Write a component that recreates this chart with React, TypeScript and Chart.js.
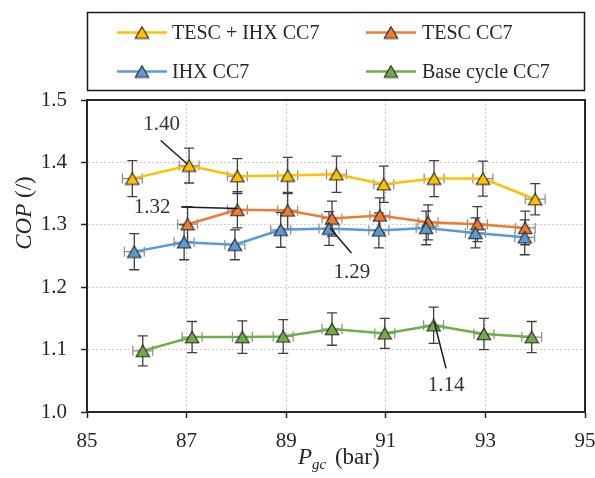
import React, { useEffect, useRef } from 'react';
import { Chart, registerables } from 'chart.js';
Chart.register(...registerables);

// ---- data ----
const seriesNames = ['TESC + IHX CC7', 'TESC CC7', 'IHX CC7', 'Base cycle CC7'];
const seriesColors = ['#FFC000', '#ED7D31', '#5B9BD5', '#70AD47'];

const tescIhxX = [85.91, 87.05, 88.02, 89.03, 90.01, 90.96, 91.97, 92.95, 94.0];
const tescIhxY = [1.374, 1.395, 1.378, 1.379, 1.381, 1.365, 1.374, 1.374, 1.341];
const tescIhxErr = [0.029, 0.028, 0.028, 0.029, 0.029, 0.029, 0.029, 0.028, 0.025];

const tescX = [87.02, 88.02, 89.03, 89.92, 90.88, 91.85, 92.84, 93.8];
const tescY = [1.301, 1.324, 1.323, 1.31, 1.315, 1.304, 1.301, 1.295];
const tescErr = [0.028, 0.029, 0.029, 0.028, 0.028, 0.028, 0.028, 0.027];

const ihxX = [85.95, 86.95, 87.97, 88.89, 89.86, 90.86, 91.81, 92.8, 93.79];
const ihxY = [1.257, 1.272, 1.268, 1.292, 1.294, 1.291, 1.295, 1.287, 1.28];
const ihxErr = [0.029, 0.028, 0.024, 0.028, 0.027, 0.028, 0.027, 0.024, 0.028];

const baseX = [86.12, 87.11, 88.12, 88.94, 89.92, 90.98, 91.96, 92.97, 93.93];
const baseY = [1.098, 1.12, 1.12, 1.121, 1.133, 1.126, 1.139, 1.125, 1.12];
const baseErr = [0.024, 0.025, 0.026, 0.027, 0.026, 0.024, 0.029, 0.025, 0.025];

const pressureErr = 0.2; // bar, horizontal error bars

const xMin = 85, xMax = 95, xStep = 2;
const yMin = 1.0, yMax = 1.5, yStep = 0.1;

const annotLabels = ['1.40', '1.32', '1.29', '1.14'];
const annotTextX = [86.5, 86.31, 90.32, 92.21];
const annotTextY = [1.461, 1.327, 1.223, 1.043];
const annotFromX = [86.48, 86.89, 89.88, 91.97];
const annotFromY = [1.435, 1.3286, 1.2949, 1.145];
const annotToX = [87.02, 88.03, 90.31, 92.21];
const annotToY = [1.397, 1.326, 1.2547, 1.07];

const series = [
  { xs: tescIhxX, ys: tescIhxY, err: tescIhxErr },
  { xs: tescX, ys: tescY, err: tescErr },
  { xs: ihxX, ys: ihxY, err: ihxErr },
  { xs: baseX, ys: baseY, err: baseErr },
];

const FONT = "'Liberation Serif', 'Times New Roman', serif";
const TEXT = '#262626';
const AXIS = '#262626';

function makeMarker(fill: string): HTMLCanvasElement {
  const c = document.createElement('canvas');
  c.width = 16;
  c.height = 14;
  const g = c.getContext('2d')!;
  g.beginPath();
  g.moveTo(8, 1.2);
  g.lineTo(14.7, 12.7);
  g.lineTo(1.3, 12.7);
  g.closePath();
  g.fillStyle = fill;
  g.fill();
  g.strokeStyle = '#262626';
  g.lineWidth = 1.1;
  g.stroke();
  return c;
}

function buildPlugin(markers: HTMLCanvasElement[]) {
  return {
    id: 'custom',
    beforeDatasetsDraw(chart: any) {
      const { ctx, scales } = chart;
      const xs = scales.x, ys = scales.y;
      ctx.save();
      series.forEach((s) => {
        s.xs.forEach((xv, i) => {
          const yv = s.ys[i];
          const px = xs.getPixelForValue(xv);
          const py = ys.getPixelForValue(yv);
          const x0 = xs.getPixelForValue(xv - pressureErr);
          const x1 = xs.getPixelForValue(xv + pressureErr);
          ctx.strokeStyle = '#8c8c8c';
          ctx.lineWidth = 1.2;
          ctx.beginPath();
          ctx.moveTo(x0, py); ctx.lineTo(x1, py);
          ctx.moveTo(x0, py - 5); ctx.lineTo(x0, py + 5);
          ctx.moveTo(x1, py - 5); ctx.lineTo(x1, py + 5);
          ctx.stroke();
          const y0 = ys.getPixelForValue(yv - s.err[i]);
          const y1 = ys.getPixelForValue(yv + s.err[i]);
          ctx.strokeStyle = '#404040';
          ctx.lineWidth = 1.3;
          ctx.beginPath();
          ctx.moveTo(px, y0); ctx.lineTo(px, y1);
          ctx.moveTo(px - 5, y0); ctx.lineTo(px + 5, y0);
          ctx.moveTo(px - 5, y1); ctx.lineTo(px + 5, y1);
          ctx.stroke();
        });
      });
      ctx.restore();
    },
    afterDraw(chart: any) {
      const { ctx, scales, chartArea } = chart;
      const xs = scales.x, ys = scales.y;
      ctx.save();
      ctx.strokeStyle = AXIS;
      ctx.lineWidth = 2;
      ctx.beginPath();
      ctx.moveTo(chartArea.left, chartArea.top);
      ctx.lineTo(chartArea.right, chartArea.top);
      ctx.lineTo(chartArea.right, chartArea.bottom);
      ctx.stroke();

      // annotations
      ctx.strokeStyle = '#1a1a1a';
      ctx.lineWidth = 1.5;
      ctx.font = `21px ${FONT}`;
      ctx.fillStyle = '#333';
      ctx.textAlign = 'center';
      ctx.textBaseline = 'middle';
      annotLabels.forEach((lab, i) => {
        ctx.beginPath();
        ctx.moveTo(xs.getPixelForValue(annotFromX[i]), ys.getPixelForValue(annotFromY[i]));
        ctx.lineTo(xs.getPixelForValue(annotToX[i]), ys.getPixelForValue(annotToY[i]));
        ctx.stroke();
        ctx.fillText(lab, xs.getPixelForValue(annotTextX[i]), ys.getPixelForValue(annotTextY[i]));
      });

      // legend
      ctx.strokeStyle = '#1a1a1a';
      ctx.lineWidth = 1.5;
      ctx.strokeRect(87.5, 12.5, 497, 78);
      ctx.font = `20px ${FONT}`;
      ctx.textAlign = 'left';
      ctx.textBaseline = 'middle';
      const colLine = [117, 366];
      const colText = [172, 422];
      const rowY = [32.5, 71.5];
      seriesNames.forEach((name, i) => {
        const c = i % 2, r = Math.floor(i / 2);
        const y = rowY[r];
        ctx.strokeStyle = seriesColors[i];
        ctx.lineWidth = 2.5;
        ctx.beginPath();
        ctx.moveTo(colLine[c], y); ctx.lineTo(colLine[c] + 50, y);
        ctx.stroke();
        const m = markers[i];
        ctx.drawImage(m, colLine[c] + 25 - m.width / 2, y - m.height / 2);
        ctx.fillStyle = TEXT;
        ctx.fillText(name, colText[c], y + 1);
      });

      // y title
      ctx.save();
      ctx.translate(25, 213);
      ctx.rotate(-Math.PI / 2);
      ctx.font = `italic 23px ${FONT}`;
      const w1 = ctx.measureText('COP').width;
      ctx.font = `23px ${FONT}`;
      const w2 = ctx.measureText(' (/)').width;
      const sx = -(w1 + w2) / 2;
      ctx.fillStyle = TEXT;
      ctx.textBaseline = 'middle';
      ctx.font = `italic 23px ${FONT}`;
      ctx.fillText('COP', sx, 0);
      ctx.font = `23px ${FONT}`;
      ctx.fillText(' (/)', sx + w1, 0);
      ctx.restore();

      // x title
      ctx.fillStyle = TEXT;
      ctx.textBaseline = 'alphabetic';
      let tx = 298;
      ctx.font = `italic 23px ${FONT}`;
      ctx.fillText('P', tx, 464);
      tx += ctx.measureText('P').width;
      ctx.font = `italic 15px ${FONT}`;
      ctx.fillText('gc', tx, 469);
      tx += ctx.measureText('gc').width;
      ctx.font = `23px ${FONT}`;
      ctx.fillText(' (bar)', tx + 3, 464);

      ctx.restore();
    },
  };
}

export default function App() {
  const ref = useRef<HTMLCanvasElement | null>(null);
  useEffect(() => {
    document.body.style.margin = '0';
    const canvas = ref.current!;
    const markers = seriesColors.map((c) => makeMarker(c));
    const datasets = series.map((s, i) => ({
      label: seriesNames[i],
      data: s.xs.map((x, j) => ({ x, y: s.ys[j] })),
      showLine: true,
      borderColor: seriesColors[i],
      backgroundColor: seriesColors[i],
      borderWidth: 2.5,
      pointStyle: markers[i],
      pointRadius: 7,
      pointHoverRadius: 7,
      order: 3 - i,
    }));
    const chart = new Chart(canvas, {
      type: 'scatter',
      data: { datasets },
      options: {
        animation: false,
        responsive: false,
        devicePixelRatio: 1,
        events: [],
        layout: { padding: { top: 100, right: 10, left: 0, bottom: 0 } },
        plugins: { legend: { display: false }, tooltip: { enabled: false } },
        scales: {
          x: {
            type: 'linear',
            min: xMin,
            max: xMax,
            afterFit: (s: any) => { s.height = 66; s.paddingLeft = 0; s.paddingRight = 0; },
            ticks: {
              stepSize: xStep,
              font: { family: FONT, size: 21 },
              color: TEXT,
              padding: 11,
              maxRotation: 0,
            },
            grid: { color: '#d0d0d0', lineWidth: 1, tickLength: 6, tickColor: AXIS, tickWidth: 1.5 },
            border: { color: AXIS, width: 2, dash: [2, 2] },
          },
          y: {
            type: 'linear',
            min: yMin,
            max: yMax,
            afterFit: (s: any) => { s.width = 87; s.paddingTop = 0; s.paddingBottom = 0; },
            ticks: {
              stepSize: yStep,
              font: { family: FONT, size: 21 },
              color: TEXT,
              padding: 14,
              callback: (v: any) => Number(v).toFixed(1),
            },
            grid: { color: '#d0d0d0', lineWidth: 1, tickLength: 6, tickColor: AXIS, tickWidth: 1.5 },
            border: { color: AXIS, width: 2, dash: [2, 2] },
          },
        },
      },
      plugins: [buildPlugin(markers)],
    } as any);
    return () => chart.destroy();
  }, []);
  return (
    <div style={{ position: 'absolute', left: 0, top: 0, width: 595, height: 478, background: '#fff' }}>
      <canvas ref={ref} width={595} height={478} />
    </div>
  );
}
